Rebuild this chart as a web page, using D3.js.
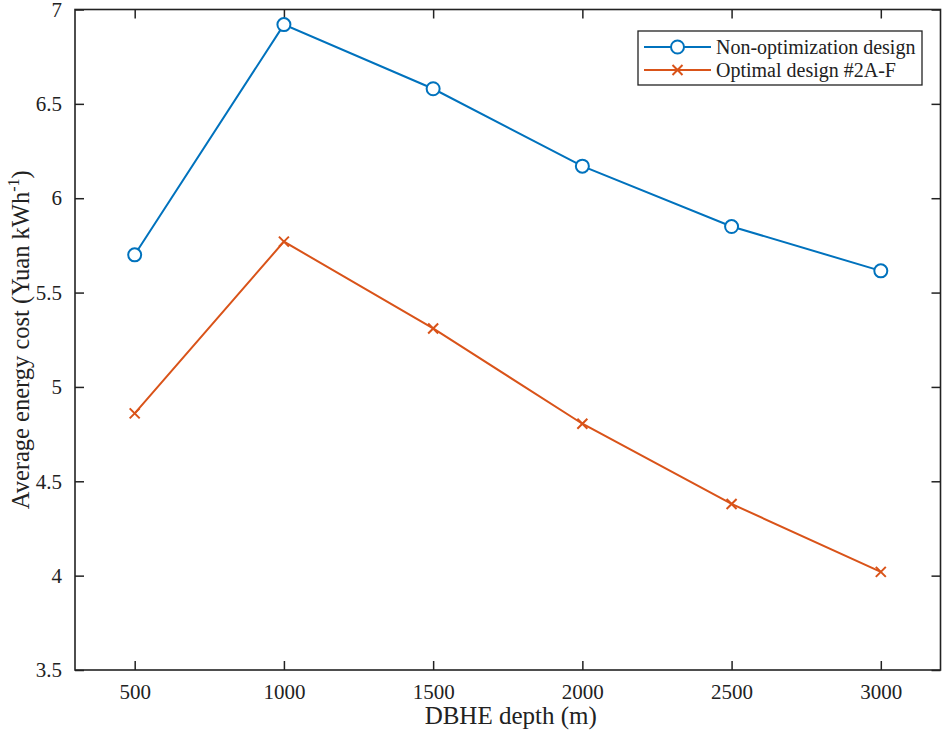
<!DOCTYPE html>
<html>
<head>
<meta charset="utf-8">
<script src="https://cdn.jsdelivr.net/npm/d3@7"></script>
<style>
  body { margin: 0; background: #fff; }
  text { font-family: "Liberation Serif", "Times New Roman", serif; }
</style>
</head>
<body>
<div id="chart"></div>
<script>
var depths = [500, 1000, 1500, 2000, 2500, 3000];
var nonOpt = [5.70, 6.92, 6.58, 6.17, 5.85, 5.615];
var optimal = [4.86, 5.77, 5.31, 4.805, 4.38, 4.02];
var xTicks = [500, 1000, 1500, 2000, 2500, 3000];
var yTicks = [3.5, 4, 4.5, 5, 5.5, 6, 6.5, 7];
var seriesNames = ["Non-optimization design", "Optimal design #2A-F"];

var W = 945, H = 736;
var margin = {top: 9.5, right: 4.5, bottom: 66, left: 75};
var width = W - margin.left - margin.right,
    height = H - margin.top - margin.bottom;

var svg = d3.select("#chart").append("svg")
    .attr("width", W).attr("height", H);
var g = svg.append("g")
    .attr("transform", "translate(" + margin.left + "," + margin.top + ")");

var x = d3.scaleLinear().domain([300, 3200]).range([0, width]);
var y = d3.scaleLinear().domain([3.5, 7]).range([height, 0]);

var fmt = function (d) { return String(d); };
var tickLen = 9;

// bottom / top axes, ticks pointing in
var xb = g.append("g").attr("transform", "translate(0," + height + ")")
  .call(d3.axisBottom(x).tickValues(xTicks).tickFormat(fmt).tickSizeInner(-tickLen).tickSizeOuter(0).tickPadding(14));
var xt = g.append("g")
  .call(d3.axisTop(x).tickValues(xTicks).tickFormat("").tickSizeInner(-tickLen).tickSizeOuter(0));
var yl = g.append("g")
  .call(d3.axisLeft(y).tickValues(yTicks).tickFormat(fmt).tickSizeInner(-tickLen).tickSizeOuter(0).tickPadding(13));
var yr = g.append("g").attr("transform", "translate(" + width + ",0)")
  .call(d3.axisRight(y).tickValues(yTicks).tickFormat("").tickSizeInner(-tickLen).tickSizeOuter(0));

[xb, xt, yl, yr].forEach(function (a) {
  a.select(".domain").remove();
  a.selectAll("line").attr("stroke", "#222").attr("stroke-width", 1.5);
  a.selectAll("text").attr("fill", "#222").style("font-size", "21px");
});

g.append("rect")
  .attr("width", width).attr("height", height)
  .attr("fill", "none").attr("stroke", "#222").attr("stroke-width", 1.6);

var line = d3.line()
  .x(function (d) { return x(d[0]); })
  .y(function (d) { return y(d[1]); });

var blue = "#0072BD", red = "#D95319";

var s1 = depths.map(function (d, i) { return [d, nonOpt[i]]; });
var s2 = depths.map(function (d, i) { return [d, optimal[i]]; });

g.append("path").datum(s1).attr("d", line)
  .attr("fill", "none").attr("stroke", blue).attr("stroke-width", 2);
g.selectAll(".c1").data(s1).enter().append("circle")
  .attr("cx", function (d) { return x(d[0]); })
  .attr("cy", function (d) { return y(d[1]); })
  .attr("r", 6.5).attr("fill", "#fff").attr("stroke", blue).attr("stroke-width", 2);

g.append("path").datum(s2).attr("d", line)
  .attr("fill", "none").attr("stroke", red).attr("stroke-width", 2);
var cross = function (sel, cx, cy, s) {
  sel.append("path")
    .attr("d", "M" + (cx - s) + "," + (cy - s) + "L" + (cx + s) + "," + (cy + s) +
               "M" + (cx - s) + "," + (cy + s) + "L" + (cx + s) + "," + (cy - s))
    .attr("stroke", red).attr("stroke-width", 2).attr("fill", "none");
};
s2.forEach(function (d) { cross(g, x(d[0]), y(d[1]), 5); });

// axis labels
svg.append("text")
  .attr("x", margin.left + width / 2 + 3).attr("y", 724)
  .attr("text-anchor", "middle").style("font-size", "25px").attr("fill", "#222")
  .text("DBHE depth (m)");

var yLab = svg.append("text")
  .attr("transform", "translate(29," + (margin.top + height / 2) + ") rotate(-90)")
  .attr("text-anchor", "middle").style("font-size", "24.5px").attr("fill", "#222");
yLab.append("tspan").text("Average energy cost (Yuan kWh");
yLab.append("tspan").attr("dy", -10).style("font-size", "16px").text("-1");
yLab.append("tspan").attr("dy", 10).text(")");

// legend
var lg = svg.append("g").attr("transform", "translate(638,31)");
lg.append("rect").attr("width", 284).attr("height", 54)
  .attr("fill", "#fff").attr("stroke", "#222").attr("stroke-width", 1.3);
var rows = [{name: seriesNames[0], color: blue, m: "o"}, {name: seriesNames[1], color: red, m: "x"}];
rows.forEach(function (r, i) {
  var cy = 16 + i * 23;
  lg.append("line").attr("x1", 6).attr("x2", 73).attr("y1", cy).attr("y2", cy)
    .attr("stroke", r.color).attr("stroke-width", 2);
  if (r.m === "o") {
    lg.append("circle").attr("cx", 39.5).attr("cy", cy).attr("r", 6.5)
      .attr("fill", "#fff").attr("stroke", r.color).attr("stroke-width", 2);
  } else {
    cross(lg, 39.5, cy, 5);
  }
  lg.append("text").attr("x", 78).attr("y", cy + 6.5)
    .style("font-size", "20px").attr("fill", "#222").text(r.name);
});
</script>
</body>
</html>
